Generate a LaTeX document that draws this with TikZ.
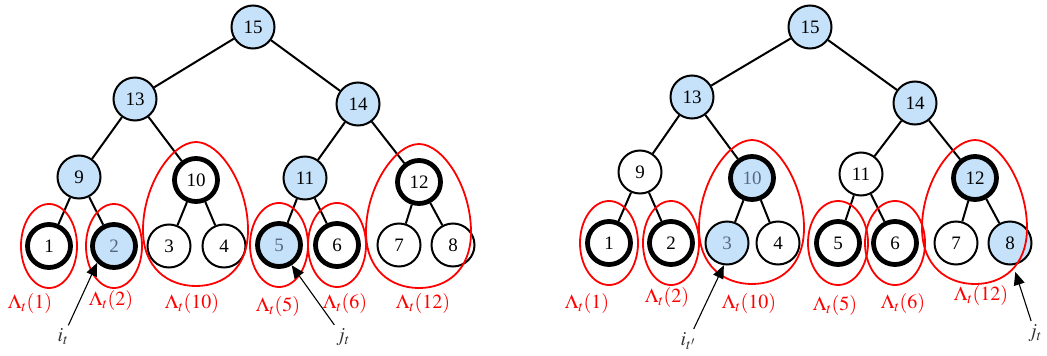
\documentclass[tikz,border=0pt]{standalone}
\usepackage{mathptmx}
\usepackage{fontspec}
\setmainfont{Liberation Serif}
\usetikzlibrary{arrows.meta}
\definecolor{nodeblue}{RGB}{197,226,250}
\definecolor{dimtext}{RGB}{88,104,128}
\newcommand{\lambdadrop}[1]{\draw[lamb,shift={(#1)}] (0,-38) .. controls (24,-38) and (52,5) .. (52,50) .. controls (52,88) and (28,106) .. (0,106) .. controls (-28,106) and (-53,88) .. (-53,50) .. controls (-53,5) and (-24,-38) .. (0,-38) -- cycle;}
\begin{document}
\begin{tikzpicture}[x=1pt,y=-1pt,
    vertex/.style={draw,circle,minimum size=43pt,inner sep=0pt,line width=2pt,font=\fontsize{19}{19}\selectfont},
    marked/.style={fill=nodeblue},
    heavy/.style={line width=4.8pt},
    dim/.style={text=dimtext},
    edge/.style={line width=2pt},
    lamb/.style={red,line width=1.8pt},
    tag/.style={red,font=\fontsize{20}{20}\selectfont},
    idx/.style={text=black!80,font=\fontsize{20}{20}\selectfont},
    ptr/.style={line width=1.1pt,-{Triangle[length=13pt,width=11pt]}}]
    \useasboundingbox (0,0) rectangle (1047,356);
    % left tree
    \node[vertex,marked] (a15) at (253,27) {15};
    \node[vertex,marked] (a13) at (135,99) {13};
    \node[vertex,marked] (a14) at (358,104) {14};
    \node[vertex,marked] (a9) at (79,177) {9};
    \node[vertex,heavy] (a10) at (196,180) {10};
    \node[vertex,marked] (a11) at (305,178) {11};
    \node[vertex,heavy] (a12) at (419,182) {12};
    \node[vertex,heavy] (a1) at (49,246) {1};
    \node[vertex,heavy,marked,dim] (a2) at (114,246) {2};
    \node[vertex] (a3) at (169,246) {3};
    \node[vertex] (a4) at (224,246) {4};
    \node[vertex,heavy,marked,dim] (a5) at (279,245) {5};
    \node[vertex,heavy] (a6) at (337,245) {6};
    \node[vertex] (a7) at (399,245) {7};
    \node[vertex] (a8) at (453,245) {8};
    \draw[edge] (a15) -- (a13);
    \draw[edge] (a15) -- (a14);
    \draw[edge] (a13) -- (a9);
    \draw[edge] (a13) -- (a10);
    \draw[edge] (a14) -- (a11);
    \draw[edge] (a14) -- (a12);
    \draw[edge] (a9) -- (a1);
    \draw[edge] (a9) -- (a2);
    \draw[edge] (a10) -- (a3);
    \draw[edge] (a10) -- (a4);
    \draw[edge] (a11) -- (a5);
    \draw[edge] (a11) -- (a6);
    \draw[edge] (a12) -- (a7);
    \draw[edge] (a12) -- (a8);
    \draw[lamb] (a1) ellipse [x radius=28pt,y radius=42pt];
    \draw[lamb] (a2) ellipse [x radius=28pt,y radius=42pt];
    \draw[lamb] (a5) ellipse [x radius=29pt,y radius=42pt];
    \draw[lamb] (a6) ellipse [x radius=29pt,y radius=42pt];
    \lambdadrop{a10}
    \lambdadrop{a12}
    \node[tag] (la1) at (30,303) {$\Lambda_t(1)$};
    \node[tag] (la2) at (111,300) {$\Lambda_t(2)$};
    \node[tag] (la10) at (192,303) {$\Lambda_t(10)$};
    \node[tag] (la5) at (278,306) {$\Lambda_t(5)$};
    \node[tag] (la6) at (345,303) {$\Lambda_t(6)$};
    \node[tag] (la12) at (423,303) {$\Lambda_t(12)$};
    \node[idx] (ai) at (63,337) {$i_t$};
    \node[idx] (aj) at (343,337) {$j_t$};
    \draw[ptr] (ai) -- (a2.225);
    \draw[ptr] (aj) -- (a5.302);
    % right tree
    \node[vertex,marked] (b15) at (810,27) {15};
    \node[vertex,marked] (b13) at (692,97) {13};
    \node[vertex,marked] (b14) at (915,103) {14};
    \node[vertex] (b9) at (640,172) {9};
    \node[vertex,heavy,marked,dim] (b10) at (752,178) {10};
    \node[vertex] (b11) at (861,174) {11};
    \node[vertex,heavy,marked] (b12) at (975,178) {12};
    \node[vertex,heavy] (b1) at (609,243) {1};
    \node[vertex,heavy] (b2) at (671,243) {2};
    \node[vertex,marked,dim] (b3) at (727,243) {3};
    \node[vertex] (b4) at (778,243) {4};
    \node[vertex,heavy] (b5) at (838,243) {5};
    \node[vertex,heavy] (b6) at (895,243) {6};
    \node[vertex] (b7) at (956,243) {7};
    \node[vertex,marked] (b8) at (1010,243) {8};
    \draw[edge] (b15) -- (b13);
    \draw[edge] (b15) -- (b14);
    \draw[edge] (b13) -- (b9);
    \draw[edge] (b13) -- (b10);
    \draw[edge] (b14) -- (b11);
    \draw[edge] (b14) -- (b12);
    \draw[edge] (b9) -- (b1);
    \draw[edge] (b9) -- (b2);
    \draw[edge] (b10) -- (b3);
    \draw[edge] (b10) -- (b4);
    \draw[edge] (b11) -- (b5);
    \draw[edge] (b11) -- (b6);
    \draw[edge] (b12) -- (b7);
    \draw[edge] (b12) -- (b8);
    \draw[lamb] (b1) ellipse [x radius=29pt,y radius=42pt];
    \draw[lamb] (b2) ellipse [x radius=28pt,y radius=42pt];
    \draw[lamb] (b5) ellipse [x radius=30pt,y radius=42pt];
    \draw[lamb] (b6) ellipse [x radius=30pt,y radius=42pt];
    \lambdadrop{b10}
    \lambdadrop{b12}
    \node[tag] (lb1) at (587,303) {$\Lambda_t(1)$};
    \node[tag] (lb2) at (667,297) {$\Lambda_t(2)$};
    \node[tag] (lb10) at (749,303) {$\Lambda_t(10)$};
    \node[tag] (lb5) at (835,305) {$\Lambda_t(5)$};
    \node[tag] (lb6) at (903,303) {$\Lambda_t(6)$};
    \node[tag] (lb12) at (981,295) {$\Lambda_t(12)$};
    \node[idx] (bi) at (688,341) {$i_{t'}$};
    \node[idx] (bj) at (1035,333) {$j_t$};
    \draw[ptr] (bi) -- (b3.262);
    \draw[ptr, shorten >=7pt] (bj) -- (b8.278);
\end{tikzpicture}
\end{document}
